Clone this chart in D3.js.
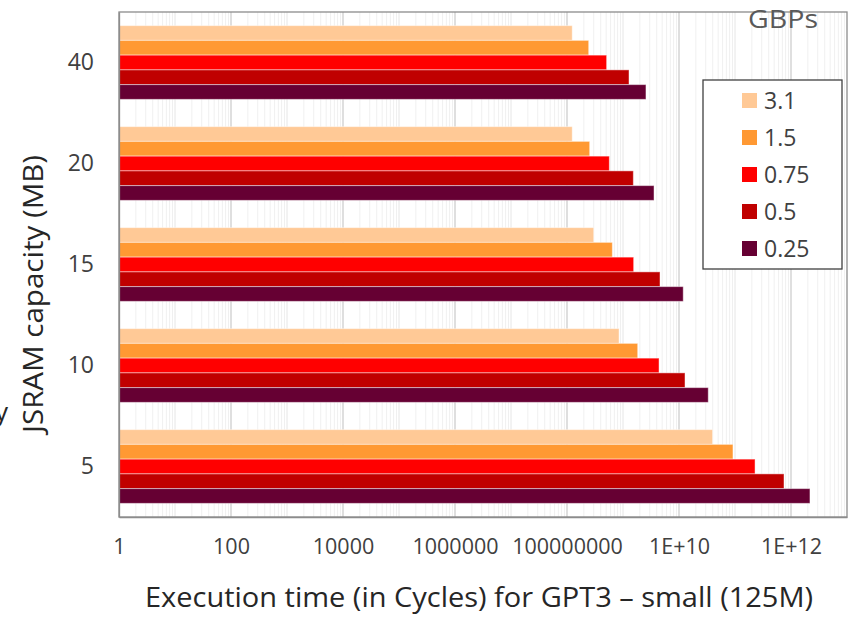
<!DOCTYPE html>
<html>
<head>
<meta charset="utf-8">
<script src="https://cdn.jsdelivr.net/npm/d3@7"></script>
<style>
  body { margin: 0; background: #fff; }
  svg { display: block; font-family: "Open Sans", "Noto Sans", sans-serif; }
</style>
</head>
<body>
<div id="chart"></div>
<script>
// Data
const capacities = ['40', '20', '15', '10', '5'];
const bandwidths = ['3.1', '1.5', '0.75', '0.5', '0.25'];
const colors = ['#ffc996', '#ff9933', '#ff0000', '#c00000', '#660033'];

// execution time (cycles) per capacity, one array per bandwidth
const bw31 = [1.24e8, 1.24e8, 3.0e8, 8.5e8, 3.98e10];
const bw15 = [2.44e8, 2.54e8, 6.45e8, 1.83e9, 9.2e10];
const bw075 = [5.1e8, 5.7e8, 1.55e9, 4.4e9, 2.28e11];
const bw05 = [1.28e9, 1.53e9, 4.58e9, 1.28e10, 7.5e11];
const bw025 = [2.57e9, 3.58e9, 1.19e10, 3.33e10, 2.18e12];
const seriesValues = [bw31, bw15, bw075, bw05, bw025];

const tickValues = [1, 1e2, 1e4, 1e6, 1e8, 1e10, 1e12];
const tickLabels = ['1', '100', '10000', '1000000', '100000000', '1E+10', '1E+12'];

// Layout
const width = 852;
const height = 618;
const margin = { top: 12, right: 5, bottom: 101, left: 119 };
const plotW = width - margin.left - margin.right;
const plotH = height - margin.top - margin.bottom;

const svg = d3.select('#chart')
  .append('svg')
  .attr('width', width)
  .attr('height', height);

const chart = svg.append('g')
  .attr('transform', `translate(${margin.left}, ${margin.top})`);

// Scales
const x = d3.scaleLog()
  .domain([1, 1e13])
  .range([0, plotW]);

const y = d3.scaleBand()
  .domain(capacities)
  .range([0, plotH])
  .paddingInner(0.27)
  .paddingOuter(0.135);

const ySub = d3.scaleBand()
  .domain(bandwidths)
  .range([0, y.bandwidth()]);

// Gridlines: minor at n*10^k, major every two decades
const minorTicks = [];
for (let k = 0; k < 13; k++) {
  for (let n = 1; n <= 9; n++) minorTicks.push(n * Math.pow(10, k));
}
chart.append('g')
  .selectAll('line')
  .data(minorTicks)
  .enter()
  .append('line')
  .attr('x1', d => x(d))
  .attr('x2', d => x(d))
  .attr('y1', 0)
  .attr('y2', plotH)
  .attr('stroke', d => Math.abs(Math.log10(d) % 1) < 1e-9 ? '#e6e6e6' : '#f0f0f0')
  .attr('stroke-width', 1);

chart.append('g')
  .selectAll('line')
  .data(tickValues.slice(1))
  .enter()
  .append('line')
  .attr('x1', d => x(d))
  .attr('x2', d => x(d))
  .attr('y1', 0)
  .attr('y2', plotH)
  .attr('stroke', '#d9d9d9')
  .attr('stroke-width', 1.5);

// Bars
const groups = chart.selectAll('.grp')
  .data(capacities)
  .enter()
  .append('g')
  .attr('class', 'grp')
  .attr('transform', d => `translate(0, ${y(d)})`);

groups.selectAll('rect')
  .data((cap, ci) => bandwidths.map((bw, si) => ({ bw, si, value: seriesValues[si][ci] })))
  .enter()
  .append('rect')
  .attr('x', x(1))
  .attr('y', d => ySub(d.bw))
  .attr('width', d => x(d.value) - x(1))
  .attr('height', ySub.bandwidth())
  .attr('fill', d => colors[d.si])
  .attr('stroke', 'rgba(255,255,255,0.45)')
  .attr('stroke-width', 1);

// Frame
chart.append('rect')
  .attr('x', 0)
  .attr('y', 0)
  .attr('width', plotW)
  .attr('height', plotH)
  .attr('fill', 'none')
  .attr('stroke', '#8c8c8c')
  .attr('stroke-width', 1.3);

// Axes
const xAxis = d3.axisBottom(x)
  .tickValues(tickValues)
  .tickFormat((d, i) => tickLabels[i])
  .tickSize(0)
  .tickPadding(22);

chart.append('g')
  .attr('transform', `translate(0, ${plotH})`)
  .call(xAxis)
  .call(g => g.select('.domain').attr('stroke', '#8c8c8c').attr('stroke-width', 1.3))
  .selectAll('text')
  .attr('font-size', 21.5)
  .attr('fill', '#404040')
  .attr('font-family', '"Open Sans", sans-serif');

const yAxis = d3.axisLeft(y)
  .tickSize(0)
  .tickPadding(25);

chart.append('g')
  .call(yAxis)
  .call(g => g.select('.domain').attr('stroke', '#8c8c8c').attr('stroke-width', 1.3))
  .selectAll('text')
  .attr('font-size', 23)
  .attr('fill', '#404040')
  .attr('font-family', '"Open Sans", sans-serif');

// Axis titles
svg.append('text')
  .attr('x', 479)
  .attr('y', 607)
  .attr('text-anchor', 'middle')
  .attr('font-size', 28)
  .attr('textLength', 668)
  .attr('lengthAdjust', 'spacingAndGlyphs')
  .attr('fill', '#262626')
  .text('Execution time (in Cycles) for GPT3 \u2013 small (125M)');

svg.append('text')
  .attr('transform', 'translate(43, 294) rotate(-90)')
  .attr('text-anchor', 'middle')
  .attr('font-size', 28)
  .attr('textLength', 278)
  .attr('lengthAdjust', 'spacingAndGlyphs')
  .attr('fill', '#262626')
  .text('JSRAM capacity (MB)');

// cut-off text at the left edge
svg.append('text')
  .attr('x', -5)
  .attr('y', 421)
  .attr('font-size', 26)
  .attr('fill', '#262626')
  .text('y');

// Legend
svg.append('text')
  .attr('x', 783)
  .attr('y', 28)
  .attr('text-anchor', 'middle')
  .attr('font-size', 26)
  .attr('textLength', 70)
  .attr('lengthAdjust', 'spacingAndGlyphs')
  .attr('fill', '#595959')
  .text('GBPs');

const legend = svg.append('g')
  .attr('transform', 'translate(703, 80)');

legend.append('rect')
  .attr('width', 139)
  .attr('height', 189)
  .attr('fill', '#fff')
  .attr('stroke', '#404040')
  .attr('stroke-width', 1.3);

const legendRow = d3.scaleBand()
  .domain(bandwidths)
  .range([2, 187]);

const items = legend.selectAll('.item')
  .data(bandwidths)
  .enter()
  .append('g')
  .attr('class', 'item')
  .attr('transform', d => `translate(0, ${legendRow(d) + legendRow.bandwidth() / 2})`);

items.append('rect')
  .attr('x', 39)
  .attr('y', -7.5)
  .attr('width', 15)
  .attr('height', 15)
  .attr('fill', (d, i) => colors[i]);

items.append('text')
  .attr('x', 61)
  .attr('dy', '0.35em')
  .attr('font-size', 23)
  .attr('fill', '#404040')
  .text(d => d);
</script>
</body>
</html>
